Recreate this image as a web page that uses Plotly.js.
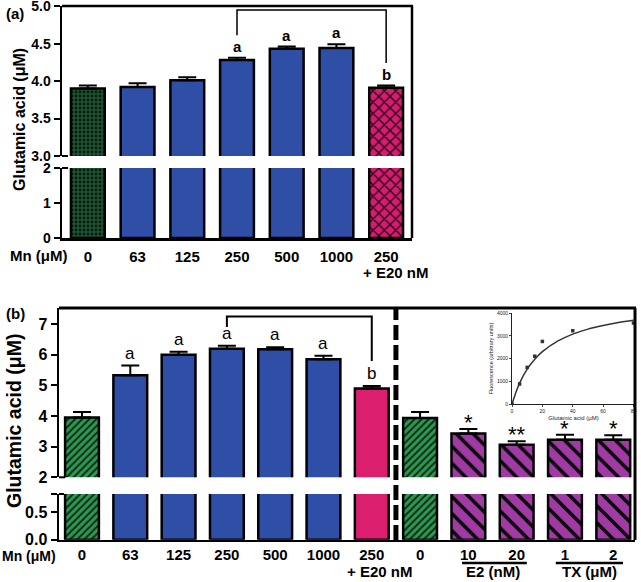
<!DOCTYPE html>
<html><head><meta charset="utf-8">
<script src="https://cdn.plot.ly/plotly-3.0.1.min.js"></script>
<style>html,body{margin:0;padding:0;background:#fff}#chart{width:641px;height:582px}</style>
</head><body><div id="chart"></div>
<script>
// ---------- Panel (a) data ----------
const catsA = ["0", "63", "125", "250", "500", "1000", "250"];
const valsA = [3.90, 3.92, 4.01, 4.28, 4.43, 4.44, 3.91];
const errA  = [0.04, 0.05, 0.04, 0.03, 0.03, 0.05, 0.03];
const sigA  = ["", "", "", "a", "a", "a", "b"];
const bracketAx = [3, 3, 6, 6];
const bracketAy = [4.61, 4.95, 4.95, 4.24];

// ---------- Panel (b) data ----------
const catsB = ["0", "63", "125", "250", "500", "1000", "250", "0", "10", "20", "1", "2"];
const valsB = [3.95, 5.33, 6.00, 6.20, 6.18, 5.86, 4.90, 3.94, 3.43, 3.06, 3.23, 3.23];
const errB  = [0.18, 0.32, 0.10, 0.10, 0.07, 0.11, 0.08, 0.19, 0.15, 0.12, 0.16, 0.14];
const sigB  = ["", "a", "a", "a", "a", "a", "b", "", "*", "**", "*", "*"];
const bracketBx = [3, 3, 6, 6];
const bracketBy = [6.91, 7.25, 7.25, 5.80];

// ---------- Inset (standard curve) ----------
const stdX = [0, 5, 10, 15, 20, 40, 80];
const stdY = [0, 880, 1610, 2100, 2750, 3220, 3560];
const fitX = [0, 2, 5, 10, 15, 20, 30, 40, 50, 60, 70, 80];
const fitY = [0, 400, 920, 1530, 1970, 2300, 2760, 3070, 3290, 3450, 3580, 3680];

// ---------- styles ----------
const BLUE = "#2f4ea6", GREEN_A = "#1d5434", GREEN_B = "#2e9852", PINK = "#dc1e6e", PINK_A = "#d81b70", PURPLE = "#a23aa6";
const DK = "#0a0a0a";
const styleA = {
  shape:    [".", "", "", "", "", "", "x"],
  bg:       [GREEN_A, BLUE, BLUE, BLUE, BLUE, BLUE, PINK_A],
  fg:       ["#061a0e", BLUE, BLUE, BLUE, BLUE, BLUE, "#1a0510"],
  size:     [4, 8, 8, 8, 8, 8, 8],
  solidity: [0.4, 0.3, 0.3, 0.3, 0.3, 0.3, 0.3]
};
const styleB = {
  shape:    ["/", "", "", "", "", "", "-", "/", "\\", "\\", "\\", "\\"],
  bg:       [GREEN_B, BLUE, BLUE, BLUE, BLUE, BLUE, PINK, GREEN_B, PURPLE, PURPLE, PURPLE, PURPLE],
  fg:       ["#0b2a14", BLUE, BLUE, BLUE, BLUE, BLUE, PINK, "#0b2a14", DK, DK, DK, DK],
  size:     [5, 8, 8, 8, 8, 8, 8, 5, 12, 12, 12, 12],
  solidity: [0.4, 0.3, 0.3, 0.3, 0.3, 0.3, 0.3, 0.4, 0.3, 0.3, 0.3, 0.3]
};

const W = 641, H = 582;
const fx = p => p / W;
const fy = p => 1 - p / H;
const FONT = "Liberation Sans, Arial, sans-serif";

const idxA = catsA.map((_, i) => i);
const idxB = catsB.map((_, i) => i);

function barTrace(xs, ys, st, xa, ya, err, width) {
  const t = {
    type: "bar", x: xs, y: ys, xaxis: xa, yaxis: ya, width: width,
    marker: {
      color: BLUE,
      line: {color: "#000", width: 2.5},
      pattern: {shape: st.shape, bgcolor: st.bg, fgcolor: st.fg, size: st.size, solidity: st.solidity, fillmode: "replace"}
    },
    hoverinfo: "skip"
  };
  if (err) {
    t.error_y = {type: "data", symmetric: false, array: err, arrayminus: err.map(() => 0),
                 color: "#000", thickness: 2, width: 9};
  }
  return t;
}

const traces = [
  barTrace(idxA, valsA, styleA, "x", "y", null, 0.68),
  barTrace(idxA, valsA, styleA, "x", "y2", errA, 0.68),
  {type: "scatter", mode: "lines", x: bracketAx, y: bracketAy, xaxis: "x", yaxis: "y2",
   line: {color: "#000", width: 1.5}, hoverinfo: "skip", cliponaxis: false},
  barTrace(idxB, valsB, styleB, "x2", "y3", null, 0.70),
  barTrace(idxB, valsB, styleB, "x2", "y4", errB, 0.70),
  {type: "scatter", mode: "lines", x: bracketBx, y: bracketBy, xaxis: "x2", yaxis: "y4",
   line: {color: "#000", width: 2}, hoverinfo: "skip", cliponaxis: false},
  {type: "scatter", mode: "lines", x: fitX, y: fitY, xaxis: "x3", yaxis: "y5",
   line: {color: "#333", width: 1.5, shape: "spline"}, hoverinfo: "skip"},
  {type: "scatter", mode: "markers", x: stdX, y: stdY, xaxis: "x3", yaxis: "y5",
   marker: {symbol: "square", size: 3.5, color: "#333"}, hoverinfo: "skip"}
];

const tickFontA = {family: FONT, size: 14, color: "#000", weight: "bold"};
const tickFontB = {family: FONT, size: 16, color: "#000", weight: "bold"};
const yCommon = {showline: true, linewidth: 2.5, linecolor: "#000", ticks: "outside", ticklen: 6,
                 tickwidth: 2, tickcolor: "#000", showgrid: false, zeroline: false, fixedrange: true,
                 ticklabeloverflow: "allow"};

const layout = {
  width: W, height: H, margin: {l: 0, r: 0, t: 0, b: 0},
  paper_bgcolor: "#fff", plot_bgcolor: "rgba(0,0,0,0)",
  showlegend: false, hovermode: false, bargap: 0,
  font: {family: FONT, color: "#000"},
  xaxis: {domain: [fx(62), fx(412)], anchor: "y", range: [-0.52, 6.52],
          tickvals: idxA, ticktext: catsA, ticks: "", showline: true, linewidth: 2.5, linecolor: "#000",
          showgrid: false, zeroline: false, tickfont: {family: FONT, size: 15, color: "#000", weight: "bold"},
          ticklabelstandoff: 3, fixedrange: true},
  yaxis: Object.assign({}, yCommon, {domain: [fy(238), fy(168)], anchor: "x", range: [0, 2],
          tickvals: [0, 1, 2], ticktext: ["0", "1", "2"], tickfont: tickFontA}),
  yaxis2: Object.assign({}, yCommon, {domain: [fy(156), fy(6)], anchor: "x", range: [3, 5.002],
          tickvals: [3, 3.5, 4, 4.5, 5], ticktext: ["3.0", "3.5", "4.0", "4.5", "5.0"], tickfont: tickFontA}),
  xaxis2: {domain: [fx(59), fx(635)], anchor: "y3", range: [-0.476, 11.45],
           tickvals: idxB, ticktext: catsB, ticks: "", showline: true, linewidth: 2.5, linecolor: "#000",
           showgrid: false, zeroline: false, tickfont: {family: FONT, size: 15, color: "#000", weight: "bold"}, fixedrange: true},
  yaxis3: Object.assign({}, yCommon, {domain: [fy(539.7), fy(494)], anchor: "x2", range: [0, 0.83],
           tickvals: [0, 0.5, 0.83], ticktext: ["0.0", "0.5", ""], tickfont: tickFontB}),
  yaxis4: Object.assign({}, yCommon, {domain: [fy(477.3), fy(308)], anchor: "x2", range: [2, 7.53],
           tickvals: [2, 3, 4, 5, 6, 7], tickfont: tickFontB}),
  xaxis3: {domain: [fx(512), fx(635)], anchor: "y5", range: [0, 81], tickvals: [0, 20, 40, 60, 80],
           showline: true, linewidth: 1, linecolor: "#222", ticks: "outside", ticklen: 2, tickwidth: 1,
           showgrid: false, zeroline: false, tickfont: {family: FONT, size: 5, color: "#222"},
           title: {text: "Glutamic acid (μM)", font: {family: FONT, size: 6, color: "#222"}, standoff: 2},
           fixedrange: true},
  yaxis5: {domain: [fy(404), fy(313)], anchor: "x3", range: [0, 4000], tickvals: [0, 1000, 2000, 3000, 4000],
           showline: true, linewidth: 1, linecolor: "#222", ticks: "outside", ticklen: 2, tickwidth: 1,
           showgrid: false, zeroline: false, tickfont: {family: FONT, size: 5, color: "#222"},
           title: {text: "Fluorescence (arbitrary units)", font: {family: FONT, size: 5.5, color: "#222"}, standoff: 2},
           fixedrange: true},
  shapes: [
    // frame (a)
    {type: "line", xref: "paper", yref: "paper", x0: fx(62), x1: fx(413), y0: fy(6), y1: fy(6), line: {color: "#000", width: 2.5}},
    {type: "line", xref: "paper", yref: "paper", x0: fx(412), x1: fx(412), y0: fy(6), y1: fy(238), line: {color: "#000", width: 2.5}},
    {type: "line", xref: "paper", yref: "paper", x0: fx(62), x1: fx(68), y0: fy(156), y1: fy(156), line: {color: "#000", width: 2}},
    {type: "line", xref: "paper", yref: "paper", x0: fx(62), x1: fx(68), y0: fy(168), y1: fy(168), line: {color: "#000", width: 2}},
    // frame (b)
    {type: "line", xref: "paper", yref: "paper", x0: fx(59), x1: fx(636), y0: fy(308), y1: fy(308), line: {color: "#000", width: 3}},
    {type: "line", xref: "paper", yref: "paper", x0: fx(635), x1: fx(635), y0: fy(308), y1: fy(540), line: {color: "#000", width: 3}},
    {type: "line", xref: "paper", yref: "paper", x0: fx(59), x1: fx(65), y0: fy(477.3), y1: fy(477.3), line: {color: "#000", width: 2}},
    {type: "line", xref: "paper", yref: "paper", x0: fx(59), x1: fx(64), y0: fy(494), y1: fy(494), line: {color: "#000", width: 2}},
    // dashed divider
    {type: "line", xref: "x2", yref: "paper", x0: 6.5, x1: 6.5, y0: fy(540), y1: fy(309),
     line: {color: "#000", width: 5, dash: "15px,5px"}},
    // group underlines
    {type: "line", xref: "x2", yref: "paper", x0: 7.87, x1: 9.21, y0: fy(563), y1: fy(563), line: {color: "#000", width: 2.5}},
    {type: "line", xref: "x2", yref: "paper", x0: 9.81, x1: 11.2, y0: fy(563), y1: fy(563), line: {color: "#000", width: 2.5}}
  ],
  annotations: []
};

const ann = layout.annotations;
const BOLD15 = {family: FONT, size: 15, color: "#000", weight: "bold"};
const txt = (text, x, y, opts) => ann.push(Object.assign({text: text, x: x, y: y, xref: "paper", yref: "paper",
  showarrow: false, font: BOLD15}, opts || {}));

txt("(a)", fx(4), fy(13), {xanchor: "left", yanchor: "middle"});
txt("(b)", fx(4), fy(313), {xanchor: "left", yanchor: "middle"});
txt("Glutamic acid (μM)", fx(20), fy(120), {textangle: -90, xanchor: "center", yanchor: "middle",
  font: {family: FONT, size: 16, color: "#000", weight: "bold"}});
txt("Glutamic acid (μM)", fx(14), fy(421), {textangle: -90, xanchor: "center", yanchor: "middle",
  font: {family: FONT, size: 19.5, color: "#000", weight: "bold"}});
txt("Mn (μM)", fx(8), fy(255), {xanchor: "left", yanchor: "middle"});
txt("Mn (μM)", fx(0), fy(556), {xanchor: "left", yanchor: "middle", font: {family: FONT, size: 14, color: "#000", weight: "bold"}});
ann.push({text: "+ E20 nM", x: 6, xref: "x", y: fy(272), yref: "paper", xshift: 9, showarrow: false,
  xanchor: "center", yanchor: "middle", font: BOLD15});
ann.push({text: "+ E20 nM", x: 6, xref: "x2", y: 0, yref: "paper", xshift: 8, showarrow: false,
  xanchor: "center", yanchor: "bottom", font: BOLD15});
ann.push({text: "E2 (nM)", x: 8.5, xref: "x2", y: 0, yref: "paper", showarrow: false,
  xanchor: "center", yanchor: "bottom", font: BOLD15});
ann.push({text: "TX (μM)", x: 10.5, xref: "x2", y: 0, yref: "paper", showarrow: false,
  xanchor: "center", yanchor: "bottom", font: BOLD15});

sigA.forEach((s, i) => {
  if (!s) return;
  ann.push({text: s, x: i, xref: "x", y: valsA[i] + errA[i], yref: "y2", showarrow: false,
    xanchor: "center", yanchor: "bottom", yshift: 1,
    font: {family: FONT, size: 15, color: "#000", weight: "bold"}});
});
sigB.forEach((s, i) => {
  if (!s) return;
  const star = s.indexOf("*") >= 0;
  ann.push({text: s, x: i, xref: "x2", y: valsB[i] + errB[i], yref: "y4", showarrow: false,
    xanchor: "center", yanchor: "bottom", yshift: star ? -8 : 1,
    font: {family: FONT, size: star ? 22 : 17, color: "#000"}});
});

Plotly.newPlot("chart", traces, layout, {displayModeBar: false, staticPlot: true});
</script>
</body></html>
